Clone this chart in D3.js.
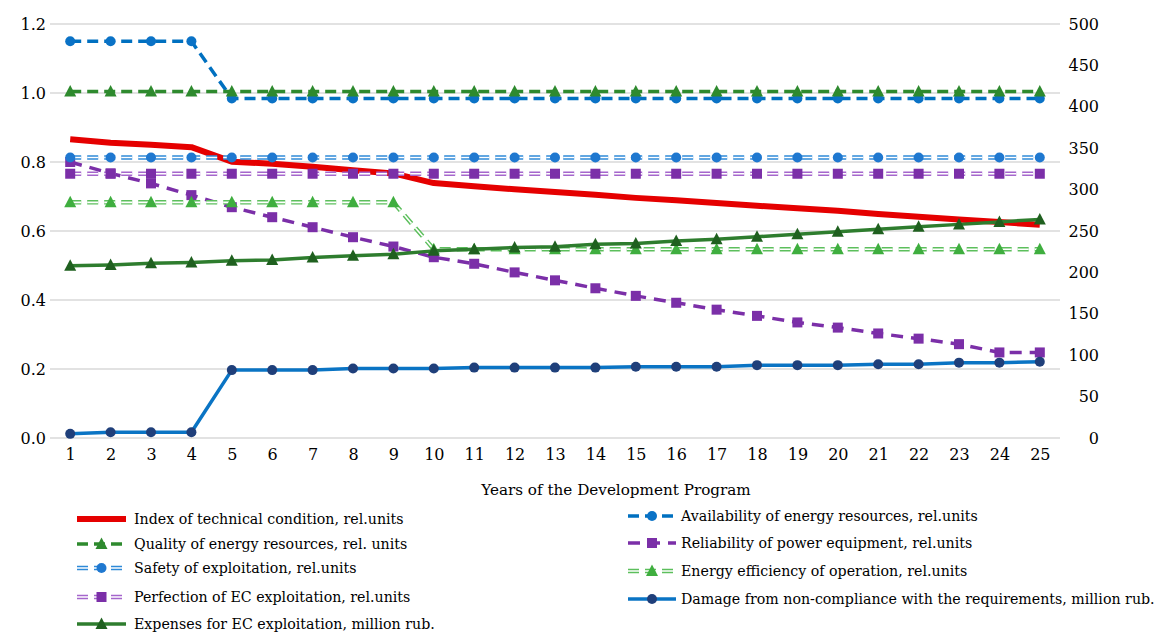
<!DOCTYPE html>
<html>
<head>
<meta charset="utf-8">
<script src="https://cdn.jsdelivr.net/npm/d3@7"></script>
<style>
  body { margin: 0; background: #fff; }
  svg text { font-family: "DejaVu Serif", serif; fill: #000; }
</style>
</head>
<body>
<div id="chart"></div>
<script>
const years = d3.range(1, 26);
const leftTicks = [0, 0.2, 0.4, 0.6, 0.8, 1.0, 1.2];
const rightTicks = [0, 50, 100, 150, 200, 250, 300, 350, 400, 450, 500];

// rel. units (left axis)
const indexTech = [0.866, 0.856, 0.850, 0.843, 0.801, 0.795, 0.786, 0.776, 0.767, 0.739, 0.730, 0.721, 0.713, 0.705, 0.696, 0.689, 0.681, 0.673, 0.666, 0.659, 0.649, 0.641, 0.633, 0.626, 0.618];
const availability = [1.150, 1.150, 1.150, 1.150, 0.984, 0.984, 0.984, 0.984, 0.984, 0.984, 0.984, 0.984, 0.984, 0.984, 0.984, 0.984, 0.984, 0.984, 0.984, 0.984, 0.984, 0.984, 0.984, 0.984, 0.984];
const quality = [1.004, 1.004, 1.004, 1.004, 1.004, 1.004, 1.004, 1.004, 1.004, 1.004, 1.004, 1.004, 1.004, 1.004, 1.004, 1.004, 1.004, 1.004, 1.004, 1.004, 1.004, 1.004, 1.004, 1.004, 1.004];
const reliability = [0.800, 0.767, 0.738, 0.704, 0.669, 0.640, 0.611, 0.582, 0.555, 0.524, 0.505, 0.480, 0.457, 0.434, 0.412, 0.392, 0.372, 0.354, 0.335, 0.320, 0.303, 0.288, 0.272, 0.248, 0.248];
const safety = [0.813, 0.813, 0.813, 0.813, 0.813, 0.813, 0.813, 0.813, 0.813, 0.813, 0.813, 0.813, 0.813, 0.813, 0.813, 0.813, 0.813, 0.813, 0.813, 0.813, 0.813, 0.813, 0.813, 0.813, 0.813];
const efficiency = [0.683, 0.683, 0.683, 0.683, 0.683, 0.683, 0.683, 0.683, 0.683, 0.547, 0.547, 0.547, 0.547, 0.547, 0.547, 0.547, 0.547, 0.547, 0.547, 0.547, 0.547, 0.547, 0.547, 0.547, 0.547];
const perfection = [0.766, 0.766, 0.766, 0.766, 0.766, 0.766, 0.766, 0.766, 0.766, 0.766, 0.766, 0.766, 0.766, 0.766, 0.766, 0.766, 0.766, 0.766, 0.766, 0.766, 0.766, 0.766, 0.766, 0.766, 0.766];
// million rub. (right axis)
const damage = [5, 7, 7, 7, 82, 82, 82, 84, 84, 84, 85, 85, 85, 85, 86, 86, 86, 88, 88, 88, 89, 89, 91, 91, 92];
const expenses = [208, 209, 211, 212, 214, 215, 218, 220, 222, 226, 228, 230, 231, 234, 235, 238, 240, 243, 246, 249, 252, 255, 258, 261, 264];

const series = [
  { name: "Index of technical condition, rel.units", values: indexTech, axis: "L", color: "#e50000", width: 6, dash: null, marker: null },
  { name: "Availability of energy resources, rel.units", values: availability, axis: "L", color: "#0070c0", width: 3.5, dash: "11,6", marker: "circle", mcolor: "#0a72c6" },
  { name: "Quality of energy resources, rel. units", values: quality, axis: "L", color: "#2e8a2e", width: 3.5, dash: "11,6", marker: "triangle", mcolor: "#2e8a2e" },
  { name: "Reliability of power equipment, rel.units", values: reliability, axis: "L", color: "#7b2fa8", width: 3.5, dash: "12,8", marker: "square", mcolor: "#7b2fa8" },
  { name: "Safety of exploitation, rel.units", values: safety, axis: "L", color: "#2f8ad8", width: 4.5, dash: "11,6", double: true, marker: "circle", mcolor: "#1f78d0" },
  { name: "Energy efficiency of operation, rel.units", values: efficiency, axis: "L", color: "#5cbf5c", width: 4.5, dash: "11,6", double: true, marker: "triangle", mcolor: "#3fae3f" },
  { name: "Perfection of EC exploitation, rel.units", values: perfection, axis: "L", color: "#a566cc", width: 4.5, dash: "11,6", double: true, marker: "square", mcolor: "#7b2fa8" },
  { name: "Damage from non-compliance with the requirements, million rub.", values: damage, axis: "R", color: "#0a74c4", width: 3.5, dash: null, marker: "circle", mcolor: "#1f3f7a" },
  { name: "Expenses for EC exploitation, million rub.", values: expenses, axis: "R", color: "#2e7d2e", width: 3.5, dash: null, marker: "triangle", mcolor: "#1f601f" }
];

const legendLeft = [
  "Index of technical condition, rel.units",
  "Quality of energy resources, rel. units",
  "Safety of exploitation, rel.units",
  "Perfection of EC exploitation, rel.units",
  "Expenses for EC exploitation, million rub."
];
const legendRight = [
  "Availability of energy resources, rel.units",
  "Reliability of power equipment, rel.units",
  "Energy efficiency of operation, rel.units",
  "Damage from non-compliance with the requirements, million rub."
];

const width = 1166;
const height = 644;
const plotLeft = 50, plotRight = 1060, plotTop = 24, plotBottom = 438;

const svg = d3.select("#chart").append("svg")
  .attr("width", width)
  .attr("height", height);

const x = d3.scalePoint().domain(years).range([plotLeft, plotRight]).padding(0.5);
const yL = d3.scaleLinear().domain([0, 1.2]).range([plotBottom, plotTop]);
const yR = d3.scaleLinear().domain([0, 500]).range([plotBottom, plotTop]);

/* gridlines */
svg.append("g")
  .selectAll("line")
  .data(leftTicks)
  .enter()
  .append("line")
  .attr("x1", plotLeft)
  .attr("x2", plotRight)
  .attr("y1", (d) => yL(d))
  .attr("y2", (d) => yL(d))
  .style("stroke", "#d9d9d9")
  .style("stroke-width", 1.3);

/* axes */
const leftAxis = svg.append("g")
  .attr("transform", `translate(${plotLeft - 4}, 0)`)
  .call(d3.axisLeft(yL).tickValues(leftTicks).tickFormat(d3.format(".1f")).tickSize(0).tickPadding(0));
const rightAxis = svg.append("g")
  .attr("transform", `translate(1099, 0)`)
  .call(d3.axisLeft(yR).tickValues(rightTicks).tickSize(0).tickPadding(0));
const bottomAxis = svg.append("g")
  .attr("transform", `translate(0, ${plotBottom})`)
  .call(d3.axisBottom(x).tickSize(0).tickPadding(11));

[leftAxis, rightAxis, bottomAxis].forEach((a) => {
  a.attr("font-family", null);
  a.select(".domain").remove();
  a.selectAll("text").style("font-size", "16px");
});

svg.append("text")
  .attr("x", 616)
  .attr("y", 495)
  .attr("text-anchor", "middle")
  .style("font-size", "15.2px")
  .text("Years of the Development Program");

/* markers */
const drawMarker = (g, type, cx, cy, color) => {
  if (type === "circle") {
    g.append("circle").attr("cx", cx).attr("cy", cy).attr("r", 5).style("fill", color);
  } else if (type === "square") {
    g.append("rect").attr("x", cx - 5).attr("y", cy - 5).attr("width", 10).attr("height", 10).style("fill", color);
  } else if (type === "triangle") {
    g.append("path")
      .attr("d", `M${cx},${cy - 6.5}L${cx + 6},${cy + 5}L${cx - 6},${cy + 5}Z`)
      .style("fill", color);
  }
};

const drawStroke = (g, d, s, isPath) => {
  const p = isPath ? g.append("path").attr("d", d) : g.append("line").attr("x1", d[0]).attr("y1", d[1]).attr("x2", d[2]).attr("y2", d[3]);
  p.style("fill", "none")
    .style("stroke", s.color)
    .style("stroke-width", s.width)
    .style("stroke-linejoin", "round")
    .style("stroke-dasharray", s.dash);
  if (s.double) {
    const w = isPath ? g.append("path").attr("d", d) : g.append("line").attr("x1", d[0]).attr("y1", d[1]).attr("x2", d[2]).attr("y2", d[3]);
    w.style("fill", "none")
      .style("stroke", "#fff")
      .style("stroke-width", 1.6)
      .style("stroke-dasharray", s.dash);
  }
};

/* lines */
const lines = svg.append("g").attr("class", "lines");
series.forEach((s) => {
  const yScale = s.axis === "L" ? yL : yR;
  const line = d3.line()
    .x((d, i) => x(years[i]))
    .y((d) => yScale(d));
  const g = lines.append("g");
  drawStroke(g, line(s.values), s, true);
  if (s.marker) {
    s.values.forEach((v, i) => drawMarker(g, s.marker, x(years[i]), yScale(v), s.mcolor));
  }
});

/* legend */
const byName = {};
series.forEach((s) => (byName[s.name] = s));

const drawLegend = (names, x0, x1, tx, ys) => {
  names.forEach((n, i) => {
    const s = byName[n];
    const g = svg.append("g");
    const cy = ys[i];
    drawStroke(g, [x0, cy, x1, cy], s, false);
    if (s.marker) drawMarker(g, s.marker, (x0 + x1) / 2, cy, s.mcolor);
    g.append("text")
      .attr("x", tx)
      .attr("y", cy)
      .attr("dy", "0.35em")
      .style("font-size", "14.2px")
      .text(n);
  });
};

drawLegend(legendLeft, 77, 126, 134, [519, 544, 568, 597, 624]);
drawLegend(legendRight, 628, 676, 681, [516, 543, 571, 599]);
</script>
</body>
</html>
